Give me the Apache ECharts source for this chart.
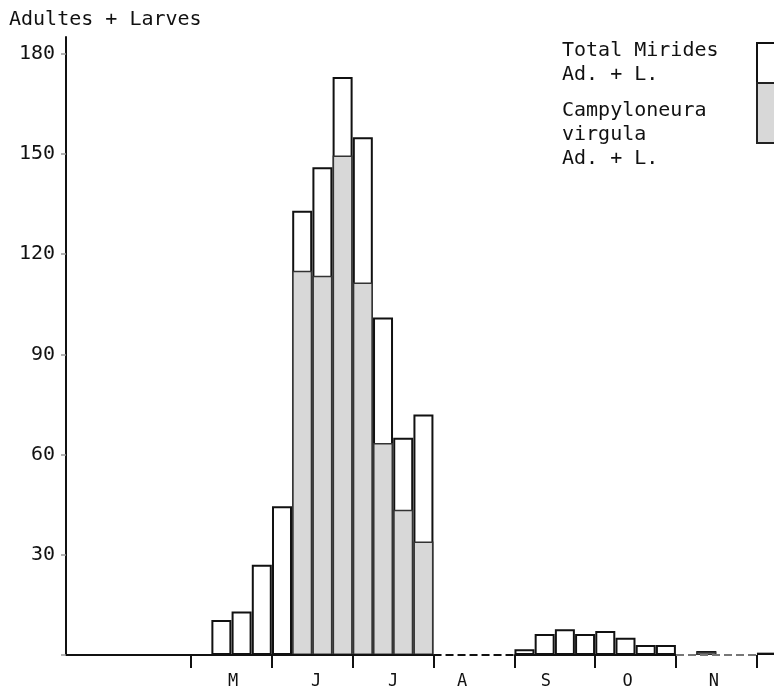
<!DOCTYPE html>
<html>
<head>
<meta charset="utf-8">
<script src="https://cdn.jsdelivr.net/npm/echarts@6/dist/echarts.min.js"></script>
<style>
  html, body { margin: 0; padding: 0; background: #fff; }
  #chart { width: 774px; height: 695px; }
</style>
</head>
<body>
<div id="chart"></div>
<script>
// weeks counted from the start of May (week 0)
const weeks = [1, 2, 3, 4, 5, 6, 7, 8, 9, 10, 11, 16, 17, 18, 19, 20, 21, 22, 23, 25, 28]
const totalMirides = [10.5, 13, 27, 44.5, 133, 146, 173, 155, 101, 65, 72, 1.7, 6.3, 7.7, 6.3, 7.2, 5.2, 3, 3, 1.2, 0.7]
const campyloneura = [null, null, null, null, 115, 113.5, 149.5, 111.5, 63.5, 43.5, 34, null, null, null, null, null, null, null, null, 1, null]

// month boundaries and letters
const monthBounds = [0, 4, 8, 12, 16, 20, 24, 28]
const monthLetters = ['M', 'J', 'J', 'A', 'S', 'O', 'N']
const monthLabelPos = [2.08, 6.19, 10.0, 13.41, 17.56, 21.6, 25.88]

// baseline pieces (week range, line type)
const baseline = [
  { from: -6.19, to: 12, type: 'solid', color: '#111' },
  { from: 12, to: 16, type: 'dashed', color: '#111' },
  { from: 16, to: 24, type: 'solid', color: '#111' },
  { from: 24, to: 28, type: 'dashed', color: '#777' }
]

const yTicks = [0, 30, 60, 90, 120, 150, 180]

const font = '"DejaVu Sans Mono", "Liberation Mono", monospace'

const chart = echarts.init(document.getElementById('chart'))

chart.setOption({
  backgroundColor: '#fff',
  animation: false,
  title: {
    text: 'Adultes + Larves',
    left: 4,
    top: 5,
    textStyle: { fontFamily: font, fontSize: 20, fontWeight: 'normal', color: '#111' }
  },
  grid: { left: 66, right: 0, top: 37, bottom: 40 },
  xAxis: {
    type: 'value',
    min: -6.19,
    max: 28.85,
    splitLine: { show: false },
    axisLine: { show: false },
    axisTick: {
      show: true,
      customValues: monthBounds,
      length: 13,
      lineStyle: { color: '#111', width: 2 }
    },
    axisLabel: {
      customValues: monthLabelPos,
      margin: 18,
      fontFamily: font,
      fontSize: 17,
      color: '#111',
      formatter(value) {
        const i = monthLabelPos.indexOf(value)
        return i >= 0 ? monthLetters[i] : ''
      }
    }
  },
  yAxis: {
    type: 'value',
    min: 0,
    max: 185,
    interval: 30,
    splitLine: { show: false },
    axisLine: { show: true, onZero: false, lineStyle: { color: '#111', width: 2 } },
    axisTick: { show: true, length: 5, lineStyle: { color: '#999', width: 1.5 } },
    axisLabel: {
      showMaxLabel: false,
      margin: 11,
      fontFamily: font,
      fontSize: 20,
      color: '#111',
      formatter(value) {
        return yTicks.indexOf(value) > 0 ? String(value) : ''
      }
    }
  },
  graphic: [
    { type: 'text', left: 562, top: 41, style: { text: 'Total Mirides', font: '20px ' + font, fill: '#111', verticalAlign: 'middle' } },
    { type: 'text', left: 562, top: 65, style: { text: 'Ad. + L.', font: '20px ' + font, fill: '#111', verticalAlign: 'middle' } },
    { type: 'text', left: 562, top: 101, style: { text: 'Campyloneura', font: '20px ' + font, fill: '#111', verticalAlign: 'middle' } },
    { type: 'text', left: 562, top: 125, style: { text: 'virgula', font: '20px ' + font, fill: '#111', verticalAlign: 'middle' } },
    { type: 'text', left: 562, top: 149, style: { text: 'Ad. + L.', font: '20px ' + font, fill: '#111', verticalAlign: 'middle' } },
    { type: 'rect', shape: { x: 757, y: 43, width: 40, height: 40 }, style: { fill: '#fff', stroke: '#111', lineWidth: 2 } },
    { type: 'rect', shape: { x: 757, y: 83, width: 40, height: 60 }, style: { fill: '#d8d8d8', stroke: '#222', lineWidth: 2 } }
  ],
  series: [
    {
      name: 'Total Mirides Ad. + L.',
      type: 'bar',
      barWidth: 20,
      barGap: '-100%',
      itemStyle: { color: '#fff', borderColor: '#111', borderWidth: 2 },
      data: weeks.map((w, i) => [w + 0.5, totalMirides[i]]),
      markLine: {
        silent: true,
        symbol: 'none',
        label: { show: false },
        data: baseline.map(b => [
          { coord: [b.from, 0], lineStyle: { type: b.type, color: b.color, width: 2 } },
          { coord: [b.to, 0] }
        ])
      }
    },
    {
      name: 'Campyloneura virgula Ad. + L.',
      type: 'bar',
      barWidth: 20,
      barGap: '-100%',
      itemStyle: { color: '#d8d8d8', borderColor: '#333', borderWidth: 1.5 },
      data: weeks.map((w, i) => [w + 0.5, campyloneura[i] == null ? '-' : campyloneura[i]])
    }
  ]
})
</script>
</body>
</html>
